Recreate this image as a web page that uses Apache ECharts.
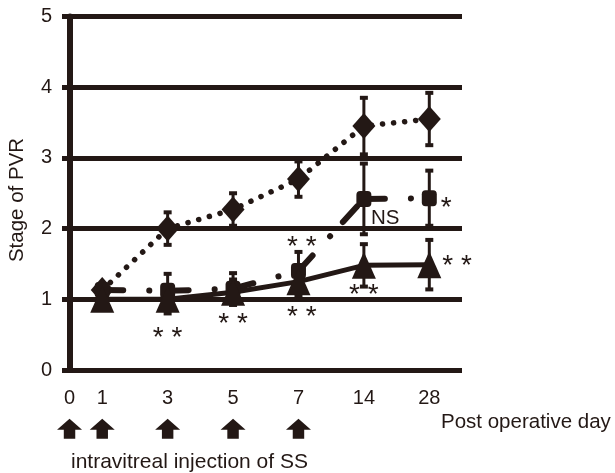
<!DOCTYPE html>
<html><head><meta charset="utf-8">
<script src="https://cdn.jsdelivr.net/npm/echarts@6/dist/echarts.min.js"></script>
<style>html,body{margin:0;padding:0;background:#fff}#c{width:615px;height:473px}</style>
</head><body><div id="c"></div>
<script>
// ---- data ----
const dayLabels = ['0', '1', '3', '5', '7', '14', '28'];
const dayPos = [0, 1, 3, 5, 7, 9, 11];           // axis slot of each day label
const dataDays = ['1', '3', '5', '7', '14', '28'];
const diamondMean = [1.13, 2.00, 2.27, 2.70, 3.45, 3.55];
const diamondSD   = [0,    0.23, 0.23, 0.25, 0.40, 0.37];
const squareMean  = [1.13, 1.12, 1.15, 1.40, 2.42, 2.43];
const squareSD    = [0,    0.24, 0.22, 0.27, 0.50, 0.39];
const triMean     = [1.00, 1.00, 1.10, 1.25, 1.48, 1.49];
const triSD       = [0,    0.20, 0.18, 0.20, 0.30, 0.35];
const injectionDays = ['0', '1', '3', '5', '7'];
const annotations = [
  [3, 0.55, '* *'], [5, 0.74, '* *'], [7.1, 0.85, '* *'], [7.1, 1.83, '* *'],
  [9.65, 2.15, 'NS'], [9, 1.15, '* *'], [11.52, 2.38, '*'], [11.85, 1.56, '* *']
];

// ---- chart ----
const INK = '#231815';
const FONT = '"Liberation Sans", Arial, sans-serif';
const slot = d => dayPos[dayLabels.indexOf(d)];
const pts = mean => dataDays.map((d, i) => [slot(d), mean[i]]);
const errData = (mean, sd) => dataDays.map((d, i) => [slot(d), mean[i], sd[i]]);

function errSeries(mean, sd) {
  return {
    type: 'custom', z: 1, silent: true,
    data: errData(mean, sd),
    renderItem(params, api) {
      const x = api.value(0), m = api.value(1), s = api.value(2);
      if (!s) return null;
      const t = api.coord([x, m + s]), b = api.coord([x, m - s]);
      const cw = 4;
      const st = w => ({ stroke: INK, lineWidth: w });
      return { type: 'group', children: [
        { type: 'line', shape: { x1: t[0], y1: t[1], x2: b[0], y2: b[1] }, style: st(3) },
        { type: 'line', shape: { x1: t[0] - cw, y1: t[1], x2: t[0] + cw, y2: t[1] }, style: st(4) },
        { type: 'line', shape: { x1: b[0] - cw, y1: b[1], x2: b[0] + cw, y2: b[1] }, style: st(4) }
      ]};
    }
  };
}

const squarePts = pts(squareMean);
const squareSegs = squarePts.slice(1).map((p, i) => [squarePts[i][0], squarePts[i][1], p[0], p[1]]);

const arrowPath = 'path://M12 0 L24 11 L17.5 11 L17.5 20 L6.5 20 L6.5 11 L0 11 Z';

const chart = echarts.init(document.getElementById('c'), null, { renderer: 'canvas' });
chart.setOption({
  animation: false,
  backgroundColor: '#fff',
  grid: { left: 62, top: 16.5, width: 400, height: 353.5 },
  xAxis: {
    type: 'value', min: -0.23, max: 12,
    axisLine: { show: false }, axisTick: { show: false }, splitLine: { show: false },
    axisLabel: {
      customValues: dayPos,
      formatter: v => { const k = dayPos.indexOf(v); return k >= 0 ? dayLabels[k] : ''; },
      color: INK, fontSize: 20, fontFamily: FONT, margin: 18
    }
  },
  yAxis: {
    type: 'value', min: 0, max: 5, interval: 1,
    axisLine: { show: true, onZero: true, lineStyle: { color: INK, width: 6 } },
    axisTick: { show: false },
    splitLine: { show: true, lineStyle: { color: INK, width: 5 } },
    axisLabel: { color: INK, fontSize: 20, fontFamily: FONT, margin: 10 }
  },
  graphic: [
    { type: 'text', x: 17, y: 200, rotation: Math.PI / 2,
      style: { text: 'Stage of PVR', fontSize: 20.5, fontFamily: FONT, fill: INK, align: 'center', verticalAlign: 'middle' } },
    { type: 'text', x: 441, y: 422,
      style: { text: 'Post operative day', fontSize: 20.5, fontFamily: FONT, fill: INK, align: 'left', verticalAlign: 'middle' } },
    { type: 'text', x: 71, y: 462,
      style: { text: 'intravitreal injection of SS', fontSize: 21, fontFamily: FONT, fill: INK, align: 'left', verticalAlign: 'middle' } }
  ],
  series: [
    errSeries(diamondMean, diamondSD),
    errSeries(squareMean, squareSD),
    errSeries(triMean, triSD),
    {
      type: 'line', z: 2, data: pts(diamondMean),
      symbol: 'diamond', symbolSize: [23, 26], showSymbol: true,
      itemStyle: { color: INK, opacity: 1 },
      lineStyle: { color: INK, width: 5.5, type: [0.1, 11], cap: 'round' }
    },
    {
      type: 'custom', z: 2, silent: true, data: squareSegs,
      renderItem(params, api) {
        const a = api.coord([api.value(0), api.value(1)]);
        const b = api.coord([api.value(2), api.value(3)]);
        return { type: 'line', shape: { x1: a[0], y1: a[1], x2: b[0], y2: b[1] },
          style: { stroke: INK, lineWidth: 6, lineCap: 'round', lineDash: [21, 26, 0.1, 19] } };
      }
    },
    {
      type: 'scatter', z: 3, data: squarePts,
      symbol: 'roundRect', symbolSize: [15, 16], itemStyle: { color: INK, opacity: 1 }
    },
    {
      type: 'line', z: 3, data: pts(triMean),
      symbol: 'triangle', symbolSize: [24, 27], showSymbol: true,
      itemStyle: { color: INK, opacity: 1 },
      lineStyle: { color: INK, width: 5 }
    },
    {
      type: 'scatter', z: 4, clip: false, silent: true,
      data: injectionDays.map(d => [slot(d), -0.83]),
      symbol: arrowPath, symbolSize: [25, 20], itemStyle: { color: INK, opacity: 1 }
    },
    {
      type: 'scatter', z: 5, clip: false, silent: true, symbolSize: 1,
      itemStyle: { color: 'rgba(0,0,0,0)', opacity: 1 },
      data: annotations.map(a => ({
        value: [a[0], a[1]],
        label: {
          formatter: a[2],
          fontSize: a[2] === 'NS' ? 20.5 : 28,
          offset: a[2] === 'NS' ? [0, 0] : [0, 7]
        }
      })),
      label: { show: true, position: 'inside', color: INK, opacity: 1, fontFamily: FONT }
    }
  ]
});
</script></body></html>
